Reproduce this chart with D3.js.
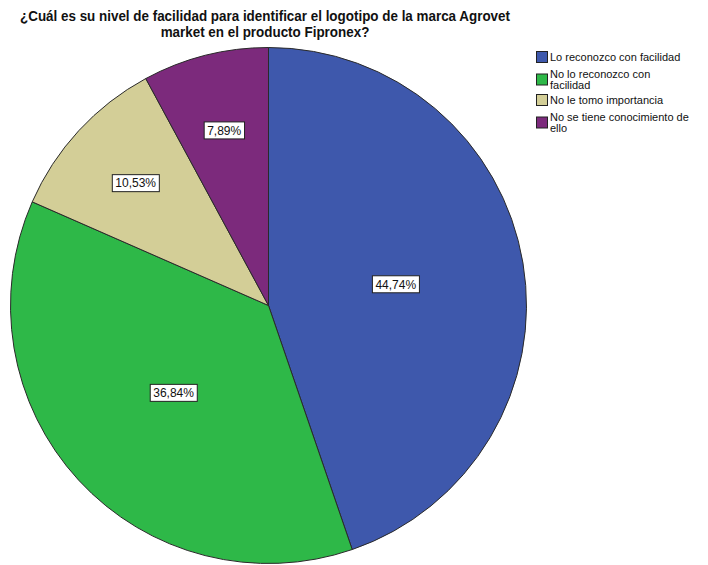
<!DOCTYPE html>
<html><head><meta charset="utf-8">
<script src="https://cdn.jsdelivr.net/npm/d3@7/dist/d3.min.js"></script>
<style>body{margin:0;background:#fff}svg{display:block}</style>
</head><body>
<script>
const categories = ["Lo reconozco con facilidad", "No lo reconozco con facilidad", "No le tomo importancia", "No se tiene conocimiento de ello"];
const legendLines = [["Lo reconozco con facilidad"], ["No lo reconozco con", "facilidad"], ["No le tomo importancia"], ["No se tiene conocimiento de", "ello"]];
const values = [44.74, 36.84, 10.53, 7.89];
const labels = ["44,74%", "36,84%", "10,53%", "7,89%"];
const colors = ["#3E58AC", "#2EB848", "#D3CE97", "#7C2A7C"];
const titleLines = ["¿Cuál es su nivel de facilidad para identificar el logotipo de la marca Agrovet", "market en el producto Fipronex?"];

const W = 708, H = 565;
const svg = d3.select("body").append("svg").attr("width", W).attr("height", H);
const font = "Liberation Sans, Arial, sans-serif";

const titles = svg.selectAll("text.title").data(titleLines).join("text")
  .attr("class","title").attr("x", 265).attr("y", (d,i)=>21 + i*16)
  .attr("text-anchor","middle").attr("font-family", font).attr("font-weight","bold")
  .attr("font-size", 15).attr("fill","#111").text(d=>d);
const w0 = titles.nodes()[0].getComputedTextLength();
const sx = 490 / w0;
titles.each(function(){
  const w = this.getComputedTextLength();
  d3.select(this).attr("textLength", w * sx).attr("lengthAdjust", "spacingAndGlyphs");
});

const cx = 268.5, cy = 305.5, r = 258;
const pie = d3.pie().sort(null).value(d=>d)(values);
const arc = d3.arc().innerRadius(0).outerRadius(r);
const g = svg.append("g").attr("transform", `translate(${cx},${cy})`);
g.selectAll("path").data(pie).join("path")
  .attr("d", arc).attr("fill", (d,i)=>colors[i])
  .attr("stroke", "#2a2a2a").attr("stroke-width", 1);

const lab = g.selectAll("g.lab").data(pie).join("g").attr("class","lab")
  .attr("transform", d => {
    const frac = (d.endAngle - d.startAngle) / (2*Math.PI);
    const k = frac < 0.15 ? 0.7 : 0.5;
    const c = d3.arc().innerRadius(r*k).outerRadius(r*k).centroid(d);
    return `translate(${c[0]},${c[1]})`;
  });
lab.each(function(d,i){
  const s = d3.select(this);
  const t = s.append("text").attr("text-anchor","middle").attr("dy","0.36em")
    .attr("font-family", font).attr("font-size", 12).attr("fill","#111").text(labels[i]);
  const bb = t.node().getBBox();
  s.insert("rect","text").attr("x", bb.x-3).attr("y", -8.5).attr("width", bb.width+6).attr("height", 17)
    .attr("fill","#fff").attr("stroke","#222").attr("stroke-width",1);
});

const lg = svg.append("g").attr("transform","translate(536,0)");
const firstBaseline = [61, 78, 104, 121];
categories.forEach((c,i)=>{
  const lines = legendLines[i];
  const b = firstBaseline[i];
  const blockMid = b - 4 + (lines.length - 1) * 11 / 2;
  lg.append("rect").attr("x",0.5).attr("y",blockMid - 5.5).attr("width",11).attr("height",11)
    .attr("fill",colors[i]).attr("stroke","#222").attr("stroke-width",1);
  lines.forEach((ln,j)=>{
    lg.append("text").attr("x",14).attr("y", b + j*11)
      .attr("font-family",font).attr("font-size",11).attr("fill","#111").text(ln);
  });
});
</script>
</body></html>
